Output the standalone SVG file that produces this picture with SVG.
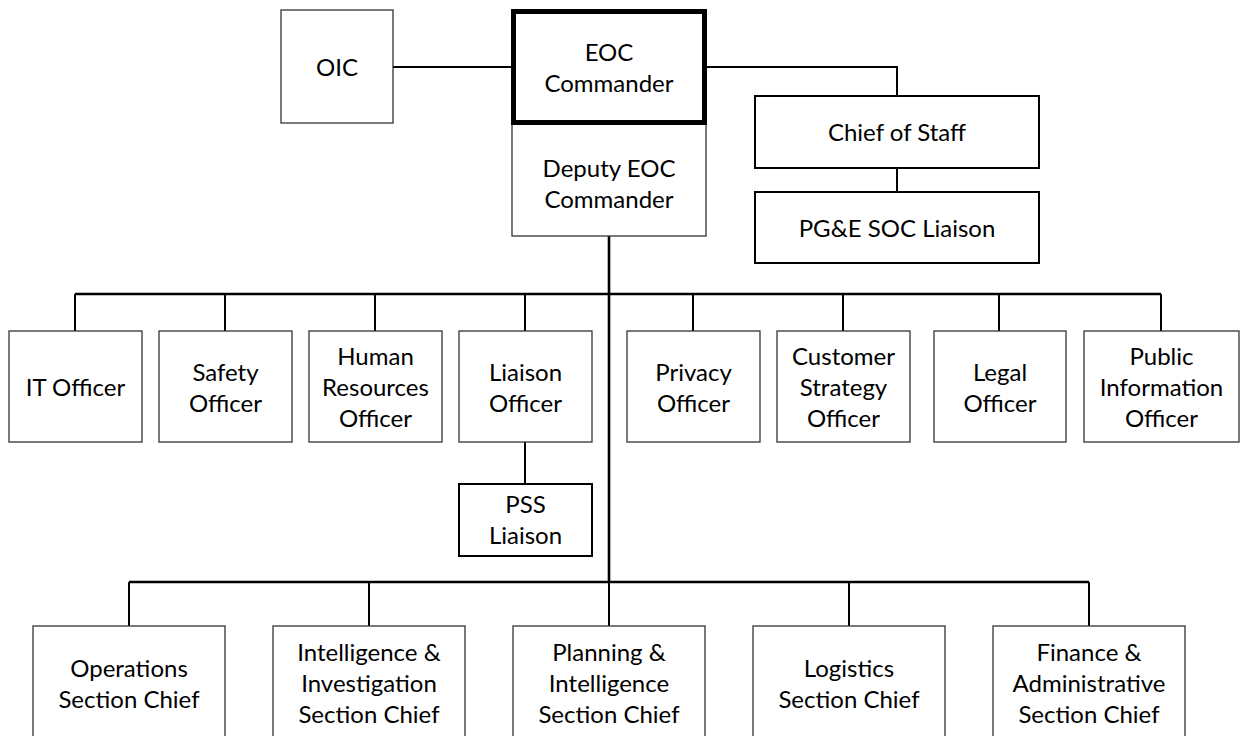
<svg xmlns="http://www.w3.org/2000/svg" width="1241" height="736" viewBox="0 0 1241 736">
<style>
  .box { fill: #ffffff; stroke: #333333; stroke-width: 1.3; }
  .boxb { fill: #ffffff; stroke: #000000; stroke-width: 2; }
  .boxc { fill: #ffffff; stroke: #000000; stroke-width: 5; }
  .t { font-family: Lato, "Liberation Sans", sans-serif; font-size: 24px; fill: #000000; text-anchor: middle; }
  .c { fill: none; stroke: #000000; stroke-width: 2; }
  .cm { fill: none; stroke: #000000; stroke-width: 2.6; }
</style>
<rect width="1241" height="736" fill="#ffffff"/>
<g id="connectors">
  <path class="c" d="M393 67 H511"/>
  <path class="c" d="M707 67 H897 V96"/>
  <path class="c" d="M897 168 V192"/>
  <path class="cm" d="M609 236 V582"/>
  <path class="cm" d="M75 294 H1161"/>
  <path class="c" d="M75 294 V331 M225 294 V331 M375 294 V331 M525 294 V331 M693 294 V331 M843 294 V331 M999 294 V331 M1161 294 V331"/>
  <path class="c" d="M525 442 V484"/>
  <path class="cm" d="M129 582 H1089"/>
  <path class="c" d="M129 582 V626 M369 582 V626 M609 582 V626 M849 582 V626 M1089 582 V626"/>
</g>
<g id="oic"><rect class="box" x="281" y="10" width="112" height="113"/><text class="t" x="337" y="76">OIC</text></g>
<g id="deputy"><rect class="box" x="512" y="123" width="194" height="113"/><text class="t"><tspan x="609" y="177">Deputy EOC</tspan><tspan x="609" y="208">Commander</tspan></text></g>
<g id="eoc-commander"><rect class="boxc" x="513.5" y="11.5" width="191" height="111"/><text class="t"><tspan x="609" y="61">EOC</tspan><tspan x="609" y="92">Commander</tspan></text></g>
<g id="chief-of-staff"><rect class="boxb" x="755" y="96" width="284" height="72"/><text class="t" x="897" y="141">Chief of Staff</text></g>
<g id="pge-soc-liaison"><rect class="boxb" x="755" y="192" width="284" height="71"/><text class="t" x="897" y="237">PG&amp;E SOC Liaison</text></g>

<g id="it-officer"><rect class="box" x="9" y="331" width="133" height="111"/><text class="t" x="75.5" y="395.5">IT Officer</text></g>
<g id="safety-officer"><rect class="box" x="159" y="331" width="133" height="111"/><text class="t"><tspan x="225.5" y="380.5">Safety</tspan><tspan x="225.5" y="411.5">Officer</tspan></text></g>
<g id="hr-officer"><rect class="box" x="309" y="331" width="133" height="111"/><text class="t"><tspan x="375.5" y="364.5">Human</tspan><tspan x="375.5" y="395.5">Resources</tspan><tspan x="375.5" y="426.5">Officer</tspan></text></g>
<g id="liaison-officer"><rect class="box" x="459" y="331" width="133" height="111"/><text class="t"><tspan x="525.5" y="380.5">Liaison</tspan><tspan x="525.5" y="411.5">Officer</tspan></text></g>
<g id="pss-liaison"><rect class="boxb" x="459" y="484" width="133" height="72"/><text class="t"><tspan x="525.5" y="513">PSS</tspan><tspan x="525.5" y="544">Liaison</tspan></text></g>
<g id="privacy-officer"><rect class="box" x="627" y="331" width="133" height="111"/><text class="t"><tspan x="693.5" y="380.5">Privacy</tspan><tspan x="693.5" y="411.5">Officer</tspan></text></g>
<g id="customer-strategy-officer"><rect class="box" x="777" y="331" width="133" height="111"/><text class="t"><tspan x="843.5" y="364.5">Customer</tspan><tspan x="843.5" y="395.5">Strategy</tspan><tspan x="843.5" y="426.5">Officer</tspan></text></g>
<g id="legal-officer"><rect class="box" x="934" y="331" width="132" height="111"/><text class="t"><tspan x="1000" y="380.5">Legal</tspan><tspan x="1000" y="411.5">Officer</tspan></text></g>
<g id="public-information-officer"><rect class="box" x="1084" y="331" width="155" height="111"/><text class="t"><tspan x="1161.5" y="364.5">Public</tspan><tspan x="1161.5" y="395.5">Information</tspan><tspan x="1161.5" y="426.5">Officer</tspan></text></g>

<g id="operations-section-chief"><rect class="box" x="33" y="626" width="192" height="113"/><text class="t"><tspan x="129" y="676.5">Operations</tspan><tspan x="129" y="707.5">Section Chief</tspan></text></g>
<g id="intel-investigation-section-chief"><rect class="box" x="273" y="626" width="192" height="113"/><text class="t"><tspan x="369" y="660.5">Intelligence &amp;</tspan><tspan x="369" y="691.5">Investigation</tspan><tspan x="369" y="722.5">Section Chief</tspan></text></g>
<g id="planning-intel-section-chief"><rect class="box" x="513" y="626" width="192" height="113"/><text class="t"><tspan x="609" y="660.5">Planning &amp;</tspan><tspan x="609" y="691.5">Intelligence</tspan><tspan x="609" y="722.5">Section Chief</tspan></text></g>
<g id="logistics-section-chief"><rect class="box" x="753" y="626" width="192" height="113"/><text class="t"><tspan x="849" y="676.5">Logistics</tspan><tspan x="849" y="707.5">Section Chief</tspan></text></g>
<g id="finance-admin-section-chief"><rect class="box" x="993" y="626" width="192" height="113"/><text class="t"><tspan x="1089" y="660.5">Finance &amp;</tspan><tspan x="1089" y="691.5">Administrative</tspan><tspan x="1089" y="722.5">Section Chief</tspan></text></g>
</svg>
